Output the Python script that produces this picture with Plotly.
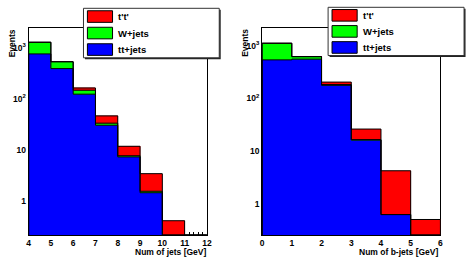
import plotly.graph_objects as go

W_PX, H_PX = 473, 265

# ---------------- data ----------------
jet_edges = [4, 5, 6, 7, 8, 9, 10, 11, 12]
jet_tt = [762, 393, 124, 30.5, 7.3, 1.45, 0, 0]
jet_wj = [527, 140, 24, 3.0, 0.4, 0.1, 0, 0]
jet_tp = [5, 5, 16, 13, 4.1, 1.88, 0.41, 0]

bjet_edges = [0, 1, 2, 3, 4, 5, 6]
bjet_tt = [542, 560, 178, 16.2, 0.62, 0]
bjet_wj = [580, 62, 6, 0.3, 0, 0]
bjet_tp = [4, 5, 21, 9.7, 3.6, 0.5]

series_names = ["t't'", "W+jets", "tt+jets"]
series_colors = ["#ff0000", "#00ff00", "#0000ff"]

y_tickvals = [1, 10, 100, 1000]
y_ticktext = ["1", "10", "10<sup>2</sup>", "10<sup>3</sup>"]

x_titles = ["Num of jets [GeV]", "Num of b-jets [GeV]"]
y_title = "Events"

FONT = "Liberation Sans, Arial, Helvetica, sans-serif"


def px_x(p):
    return p / W_PX


def px_y(p):
    return 1 - p / H_PX


def step_xy(edges, vals, floor):
    xs, ys = [edges[0]], [floor]
    for i, v in enumerate(vals):
        v = max(v, floor)
        xs += [edges[i], edges[i + 1]]
        ys += [v, v]
    xs.append(edges[-1])
    ys.append(floor)
    return xs, ys


panels = [
    dict(edges=jet_edges, tt=jet_tt, wj=jet_wj, tp=jet_tp,
         xdom=(27, 208), yrange=(-0.667, 3.39), ax="", title=x_titles[0],
         legend=(82.7, 8.3, 220.5, 57.8), ev_x=10.5),
    dict(edges=bjet_edges, tt=bjet_tt, wj=bjet_wj, tp=bjet_tp,
         xdom=(264, 445), yrange=(-0.596, 3.34), ax="2", title=x_titles[1],
         legend=(331, 7.3, 469, 55.5), ev_x=246.5),
]

fig = go.Figure()
shapes = []
annotations = []

for p in panels:
    edges = p["edges"]
    centers = [(edges[i] + edges[i + 1]) / 2 for i in range(len(edges) - 1)]
    xa = "x" + p["ax"]
    ya = "y" + p["ax"]
    layers = [(p["tt"], series_colors[2]), (p["wj"], series_colors[1]), (p["tp"], series_colors[0])]
    # stacked filled bars
    for vals, col in layers:
        fig.add_trace(go.Bar(x=centers, y=vals, width=1, marker=dict(color=col, line=dict(color=col, width=0.4)),
                             xaxis=xa, yaxis=ya, showlegend=False, hoverinfo="skip"))
    # black outlines of the cumulative histograms
    floor = 10 ** p["yrange"][0]
    cum = [0] * len(centers)
    for vals, col in layers:
        cum = [c + v for c, v in zip(cum, vals)]
        xs, ys = step_xy(edges, cum, floor)
        fig.add_trace(go.Scatter(x=xs, y=ys, mode="lines", line=dict(color="black", width=1),
                                 xaxis=xa, yaxis=ya, showlegend=False, hoverinfo="skip"))

    axis_common = dict(showline=True, mirror=True, linecolor="black", linewidth=1,
                       ticks="inside", tickcolor="black", showgrid=False, zeroline=False,
                       layer="below traces",
                       tickfont=dict(family=FONT, size=8.5, color="black", weight="bold"))
    fig.layout["xaxis" + p["ax"]] = dict(
        domain=[px_x(p["xdom"][0]), px_x(p["xdom"][1])],
        range=[edges[0], edges[-1]], tickvals=edges, ticklen=6,
        minor=dict(dtick=0.2, ticks="inside", ticklen=3, tickcolor="black", showgrid=False),
        anchor=ya, **axis_common)
    fig.layout["yaxis" + p["ax"]] = dict(
        domain=[px_y(235), px_y(28)], type="log", range=list(p["yrange"]),
        tickvals=y_tickvals, ticktext=y_ticktext, ticklen=6, anchor=xa, **axis_common)

    # x title
    annotations.append(dict(text=p["title"], xref="paper", yref="paper",
                            x=px_x(p["xdom"][1] + 1), y=px_y(251.5), xanchor="right", yanchor="middle",
                            showarrow=False, font=dict(family=FONT, size=8.5, color="black", weight="bold")))
    # y title
    annotations.append(dict(text=y_title, xref="paper", yref="paper", textangle=-90,
                            x=px_x(p["ev_x"]), y=px_y(27), xanchor="center", yanchor="top",
                            showarrow=False, font=dict(family=FONT, size=8.5, color="black", weight="bold")))

    # legend box with shadow
    lx0, ly0, lx1, ly1 = p["legend"]
    shapes.append(dict(type="rect", xref="paper", yref="paper", layer="above",
                       x0=px_x(lx0 + 1.5), x1=px_x(lx1 + 1.5), y0=px_y(ly1 + 1.5), y1=px_y(ly0 + 1.5),
                       fillcolor="#222222", line=dict(width=0)))
    shapes.append(dict(type="rect", xref="paper", yref="paper", layer="above",
                       x0=px_x(lx0), x1=px_x(lx1), y0=px_y(ly1), y1=px_y(ly0),
                       fillcolor="white", line=dict(color="#333333", width=1)))
    row_h = (ly1 - ly0) / 3
    for i, (name, col) in enumerate(zip(series_names, series_colors)):
        cy = ly0 + row_h * (i + 0.5)
        bx0 = lx0 + 4
        shapes.append(dict(type="rect", xref="paper", yref="paper", layer="above",
                           x0=px_x(bx0), x1=px_x(bx0 + 25.5), y0=px_y(cy + 5.8), y1=px_y(cy - 5.8),
                           fillcolor=col, line=dict(color="black", width=1)))
        annotations.append(dict(text=name, xref="paper", yref="paper",
                                x=px_x(bx0 + 29), y=px_y(cy), xanchor="left", yanchor="middle",
                                showarrow=False, font=dict(family=FONT, size=9.5, color="black", weight="bold")))

fig.update_layout(
    width=W_PX, height=H_PX, margin=dict(l=0, r=0, t=0, b=0),
    paper_bgcolor="white", plot_bgcolor="white",
    barmode="stack", bargap=0, showlegend=False,
    shapes=shapes, annotations=annotations,
)

fig.write_html("out.html", config={"displayModeBar": False, "staticPlot": True},
               post_script="document.body.style.margin='0px';document.body.style.padding='0px';")
